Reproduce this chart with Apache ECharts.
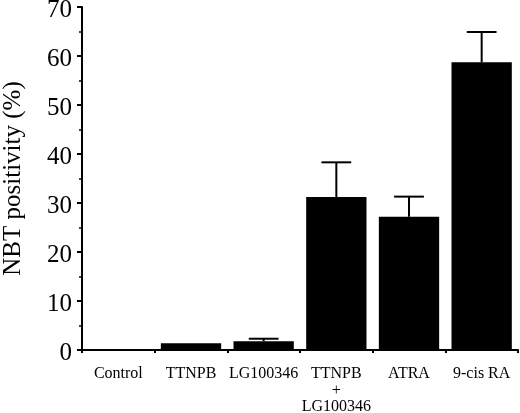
<!DOCTYPE html>
<html>
<head>
<meta charset="utf-8">
<script src="https://cdn.jsdelivr.net/npm/echarts@6/dist/echarts.min.js"></script>
<style>
  html, body { margin: 0; padding: 0; background: #fff; }
  #chart { width: 520px; height: 413px; }
</style>
</head>
<body>
<div id="chart"></div>
<script>
// data
var categories = ['Control', 'TTNPB', 'LG100346', 'TTNPB\n+\nLG100346', 'ATRA', '9-cis RA'];
var means = [0, 1.4, 1.8, 31.2, 27.2, 58.7];
var errors = [0, 0, 0.5, 7.1, 4.1, 6.2];
var yTicks = [0, 10, 20, 30, 40, 50, 60, 70];

var serif = '"Liberation Serif", "Times New Roman", "DejaVu Serif", serif';

var chart = echarts.init(document.getElementById('chart'));

// error bar data: [index, mean, mean + err]
var errData = means.map(function (m, i) {
    return [i, m, m + errors[i]];
}).filter(function (d) { return d[2] > d[1]; });

var option = {
    animation: false,
    grid: { left: 82, right: 2, top: 7, bottom: 63, containLabel: false, outerBoundsMode: 'none' },
    xAxis: {
        type: 'category',
        data: categories,
        axisLine: { lineStyle: { color: '#000', width: 2 } },
        axisTick: { show: true, length: 3, lineStyle: { color: '#000', width: 2 } },
        axisLabel: {
            color: '#000',
            fontFamily: serif,
            fontSize: 16,
            lineHeight: 16.5,
            margin: 16,
            interval: 0
        }
    },
    yAxis: {
        type: 'value',
        min: yTicks[0],
        max: yTicks[yTicks.length - 1],
        interval: 10,
        name: 'NBT positivity (%)',
        nameLocation: 'middle',
        nameGap: 56,
        nameTextStyle: { color: '#000', fontFamily: serif, fontSize: 25 },
        axisLine: { show: true, lineStyle: { color: '#000', width: 2 } },
        axisTick: { show: true, length: 5, lineStyle: { color: '#000', width: 2 } },
        minorTick: { show: true, splitNumber: 2, length: 3, lineStyle: { color: '#000', width: 1.5 } },
        splitLine: { show: false },
        axisLabel: {
            margin: 10,
            formatter: '{n|{value}}',
            rich: {
                n: {
                    color: '#000',
                    fontFamily: serif,
                    fontSize: 25,
                    padding: [7, 0, 0, 0]
                }
            }
        }
    },
    series: [
        {
            type: 'bar',
            data: means,
            barWidth: '83%',
            itemStyle: { color: '#000' }
        },
        {
            type: 'custom',
            data: errData,
            z: 1,
            renderItem: function (params, api) {
                var bottom = api.coord([api.value(0), api.value(1)]);
                var top = api.coord([api.value(0), api.value(2)]);
                var half = api.size([1, 0])[0] * 0.205;
                var style = { stroke: '#000', lineWidth: 2 };
                return {
                    type: 'group',
                    children: [
                        { type: 'line', shape: { x1: top[0], y1: bottom[1], x2: top[0], y2: top[1] }, style: style },
                        { type: 'line', shape: { x1: top[0] - half, y1: top[1], x2: top[0] + half, y2: top[1] }, style: style }
                    ]
                };
            }
        }
    ]
};

chart.setOption(option);
</script>
</body>
</html>
